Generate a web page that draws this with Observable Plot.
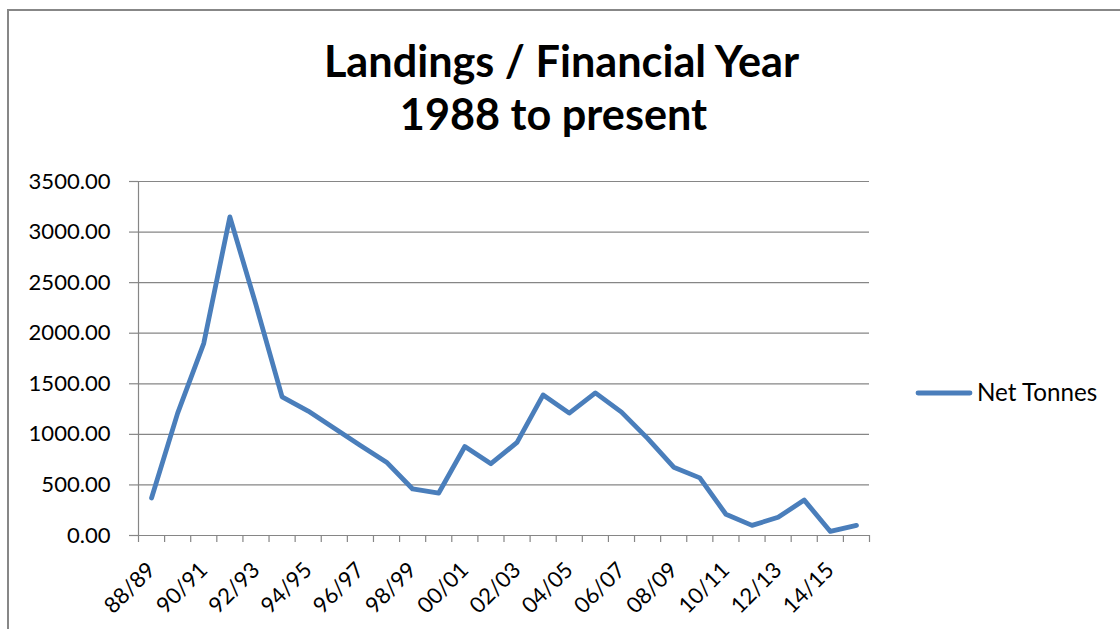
<!DOCTYPE html>
<html>
<head>
<meta charset="utf-8">
<script src="https://cdn.jsdelivr.net/npm/d3@7"></script>
<script src="https://cdn.jsdelivr.net/npm/@observablehq/plot@0.6"></script>
<style>
  html, body { margin: 0; padding: 0; background: #fff; }
  #wrap { position: relative; width: 1120px; height: 629px; overflow: hidden; background: #fff; }
  #frame { position: absolute; left: 7px; top: 9px; width: 1200px; height: 700px;
           border-top: 2px solid #878787; border-left: 2px solid #878787; pointer-events: none; }
  #chart { position: absolute; left: 0; top: 0; }
</style>
</head>
<body>
<div id="wrap"><div id="chart"></div><div id="frame"></div></div>
<script>
// ---- data ----
const categories = ["88/89","89/90","90/91","91/92","92/93","93/94","94/95","95/96","96/97","97/98",
  "98/99","99/00","00/01","01/02","02/03","03/04","04/05","05/06","06/07","07/08",
  "08/09","09/10","10/11","11/12","12/13","13/14","14/15","15/16"];
const netTonnes = [370,1210,1900,3150,2280,1370,1230,1060,890,725,
  460,420,880,710,920,1390,1210,1410,1220,960,
  675,570,210,100,180,350,40,100];
const yTicks = [0,500,1000,1500,2000,2500,3000,3500];
const seriesName = "Net Tonnes";
const titleLines = ["Landings / Financial Year", "1988 to present"];

// ---- helpers ----
const FAMILY = "Lato, 'Open Sans', 'DejaVu Sans', sans-serif";
const ctx = document.createElement("canvas").getContext("2d");
function fit(text, weight, target) {
  ctx.font = `${weight} 100px ${FAMILY}`;
  return 100 * target / ctx.measureText(text).width;
}
const axisFont = fit("3500.00", "normal", 82);
const legendFont = fit(seriesName, "normal", 121);
const titleFont = fit(titleLines[0], "bold", 477);

const data = categories.map((c, i) => ({i, label: c, v: netTonnes[i]}));
const labelled = data.filter(d => d.i % 2 === 0);
const boundaries = d3.range(categories.length + 1).map(k => k - 0.5);

const GRID = "#868686";
const BLUE = "#4A7EBB";

const plot = Plot.plot({
  width: 1120,
  height: 629,
  marginLeft: 138,
  marginRight: 251,
  marginTop: 181,
  marginBottom: 94,
  style: {background: "transparent", color: "black", fontFamily: FAMILY, overflow: "visible"},
  x: {type: "linear", domain: [-0.5, categories.length - 0.5], axis: null, label: null},
  y: {domain: [0, 3500], axis: null, label: null},
  marks: [
    Plot.gridY(yTicks, {stroke: GRID, strokeOpacity: 1, strokeWidth: 1.2}),
    Plot.ruleX([-0.5], {stroke: GRID, strokeWidth: 1.2}),
    Plot.ruleY([0], {stroke: GRID, strokeWidth: 1.2}),
    Plot.axisY(yTicks, {anchor: "left", tickSize: 9, text: null, label: null, stroke: GRID, strokeWidth: 1.2}),
    Plot.axisY(yTicks, {anchor: "left", tickSize: 0, tickPadding: 28, tickFormat: d => d.toFixed(2),
      label: null, fontSize: axisFont, fill: "black"}),
    Plot.axisX(boundaries, {anchor: "bottom", tickSize: 7, text: null, label: null, stroke: GRID, strokeWidth: 1.2}),
    Plot.text(labelled, {x: "i", y: () => 0, text: "label", rotate: -45, textAnchor: "end",
      lineAnchor: "middle", dy: 31, fontSize: axisFont, fill: "black"}),
    Plot.line(data, {x: "i", y: "v", stroke: BLUE, strokeWidth: 4.8,
      strokeLinecap: "round", strokeLinejoin: "round"})
  ]
});
document.getElementById("chart").appendChild(plot);

// ---- title and legend (text kept as real SVG text) ----
const svg = d3.select(plot);
svg.append("text").attr("x", 561.5).attr("y", 77).attr("text-anchor", "middle")
  .attr("font-family", FAMILY).attr("font-weight", "bold").attr("font-size", titleFont)
  .attr("fill", "black").text(titleLines[0]);
svg.append("text").attr("x", 553.5).attr("y", 130).attr("text-anchor", "middle")
  .attr("font-family", FAMILY).attr("font-weight", "bold").attr("font-size", titleFont)
  .attr("fill", "black").text(titleLines[1]);
svg.append("line").attr("x1", 918).attr("x2", 970).attr("y1", 393).attr("y2", 393)
  .attr("stroke", BLUE).attr("stroke-width", 4.8).attr("stroke-linecap", "round");
svg.append("text").attr("x", 977).attr("y", 400.5).attr("text-anchor", "start")
  .attr("font-family", FAMILY).attr("font-size", legendFont).attr("fill", "black").text(seriesName);
</script>
</body>
</html>
